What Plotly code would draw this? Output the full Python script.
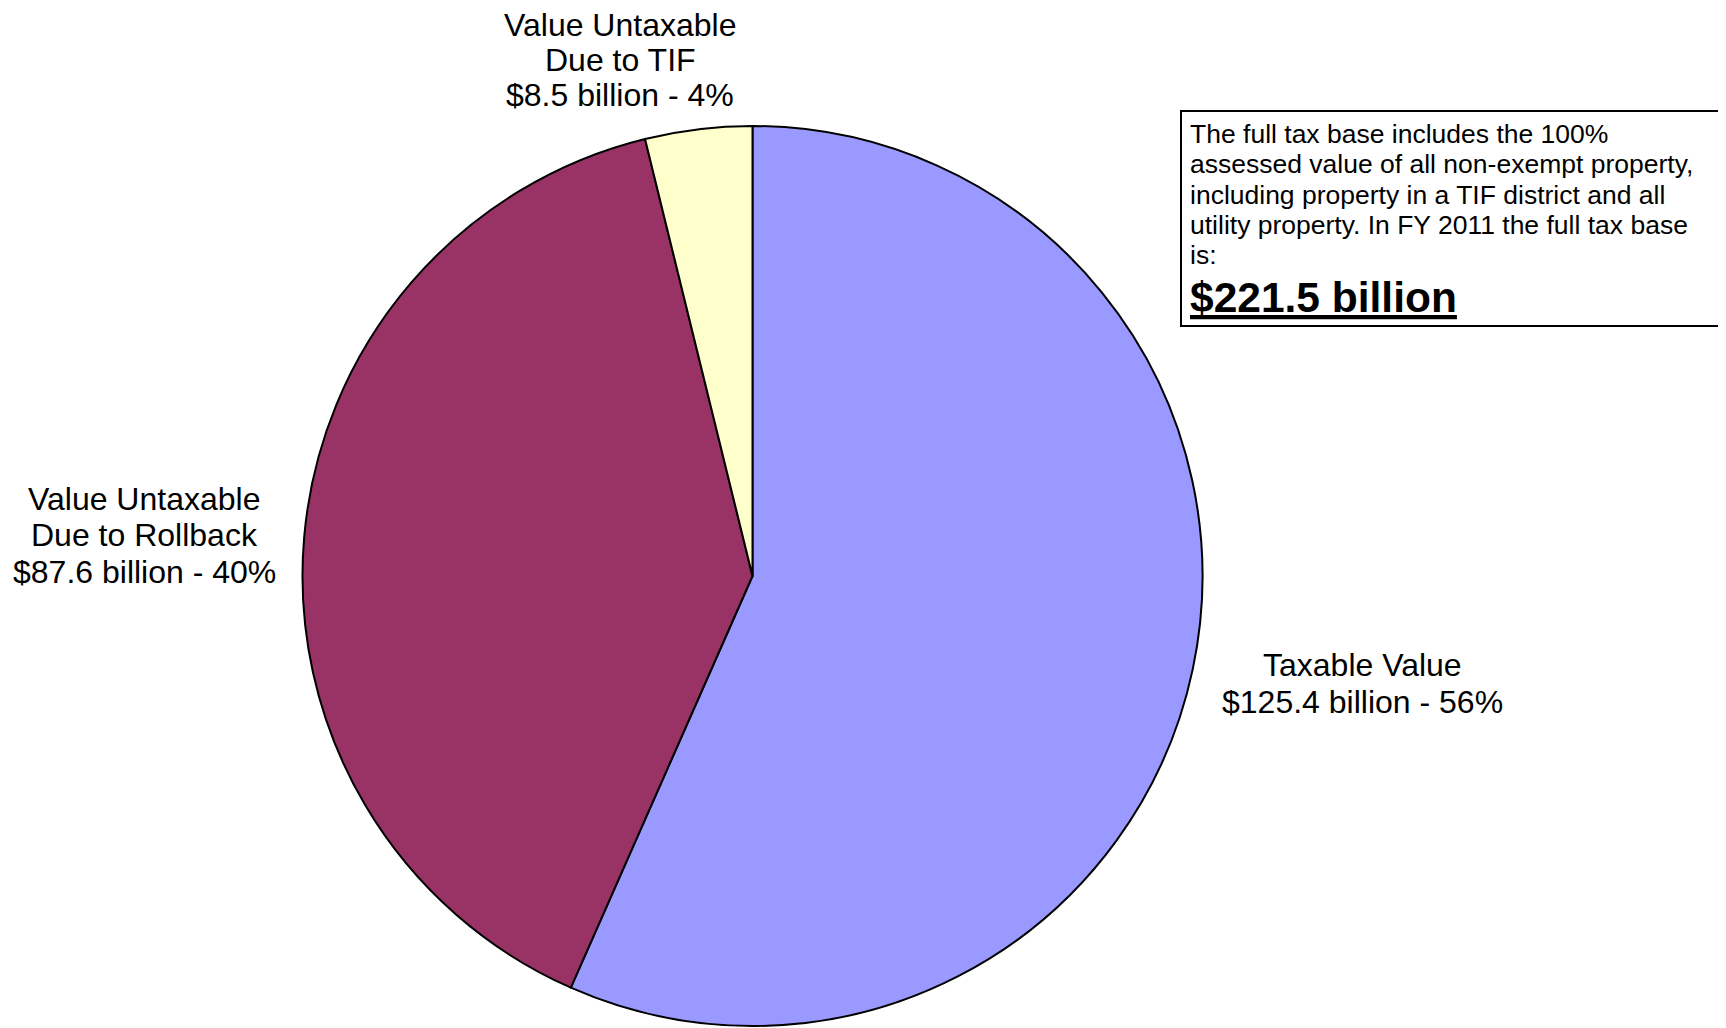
import plotly.graph_objects as go

W, H = 1726, 1028
OFF = 8  # page body margin around the plot div

slice_names = ["Taxable Value", "Value Untaxable Due to Rollback", "Value Untaxable Due to TIF"]
values = [125.4, 87.6, 8.5]          # $ billion
percents = [56, 40, 4]
colors = ["#9999FF", "#993366", "#FFFFCC"]
total = 221.5

label_lines = [
    ["Taxable Value"],
    ["Value Untaxable", "Due to Rollback"],
    ["Value Untaxable", "Due to TIF"],
]

note_lines = [
    "The full tax base includes the 100%",
    "assessed value of all non-exempt property,",
    "including property in a TIF district and all",
    "utility property. In FY 2011 the full tax base",
    "is:",
]

# label placement (window px): center x, center y of first line, line step
label_pos = [(1362, 665, 36.8), (144, 498.5, 36.8), (620, 25, 35)]


def px(x, y):
    return (x - OFF) / W, 1 - (y - OFF) / H


fig = go.Figure()

fig.add_trace(go.Pie(
    labels=slice_names,
    values=values,
    sort=False,
    direction="clockwise",
    rotation=0,
    textinfo="none",
    hoverinfo="label+value+percent",
    marker=dict(colors=colors, line=dict(color="black", width=2)),
    domain=dict(x=[(302 - OFF) / W, (1203 - OFF) / W],
                y=[1 - (1026 - OFF) / H, 1 - (126 - OFF) / H]),
    showlegend=False,
))

# slice labels, one annotation per line
for lines, val, pct, (cx, cy, step) in zip(label_lines, values, percents, label_pos):
    all_lines = lines + [f"${val} billion - {pct}%"]
    for i, line in enumerate(all_lines):
        x, y = px(cx, cy + i * step)
        fig.add_annotation(
            x=x, y=y, xref="paper", yref="paper",
            text=line, showarrow=False,
            xanchor="center", yanchor="middle",
            font=dict(size=32, color="black"),
        )

# note box (runs off the right edge)
x0, y0 = px(1181, 111)
x1, y1 = px(1760, 326)
fig.add_shape(type="rect", xref="paper", yref="paper",
              x0=x0, y0=y1, x1=x1, y1=y0,
              line=dict(color="black", width=2), fillcolor="white", layer="below")

for i, line in enumerate(note_lines):
    tx, ty = px(1188, 134 + i * 30.3)
    fig.add_annotation(
        x=tx, y=ty, xref="paper", yref="paper",
        text=line, showarrow=False,
        xanchor="left", yanchor="middle", align="left",
        font=dict(size=26.5, color="black"),
    )

bx, by = px(1188, 297.5)
fig.add_annotation(
    x=bx, y=by, xref="paper", yref="paper",
    text=f"<b><u>${total} billion</u></b>", showarrow=False,
    xanchor="left", yanchor="middle", align="left",
    font=dict(size=42.5, color="black"),
)

fig.update_layout(
    width=W, height=H,
    margin=dict(l=0, r=0, t=0, b=0),
    paper_bgcolor="white",
    plot_bgcolor="white",
    font=dict(family="Liberation Sans, Arial, sans-serif", color="black"),
)

fig.write_html("out.html")
